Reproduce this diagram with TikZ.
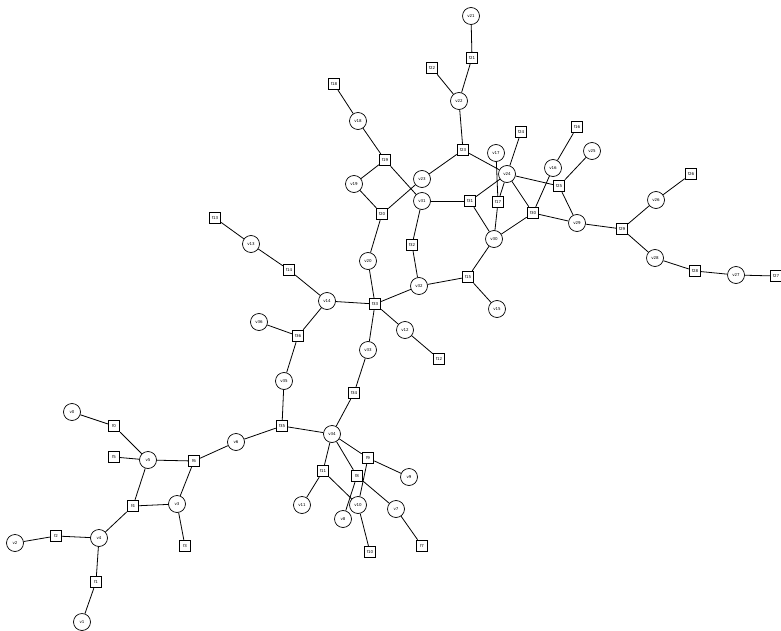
\documentclass[tikz,border=0pt]{standalone}
\usepackage{fontspec}
\setmainfont{DejaVu Sans}
\begin{document}
\begin{tikzpicture}[x=1pt,y=-1pt,
  vn/.style={circle,draw,line width=0.7pt,minimum size=17pt,inner sep=0pt,font=\fontsize{4}{4}\selectfont,fill=white},
  fn/.style={rectangle,draw,line width=0.9pt,minimum size=11.5pt,inner sep=0pt,font=\fontsize{4}{4}\selectfont,fill=white},
  ed/.style={line width=0.8pt}]
\useasboundingbox (0,0) rectangle (781,631);
% variable nodes
\node[vn] (v0) at (72,412) {v0};
\node[vn] (v1) at (82,622) {v1};
\node[vn] (v2) at (15,543) {v2};
\node[vn] (v3) at (177,504) {v3};
\node[vn] (v4) at (99,538) {v4};
\node[vn] (v5) at (148,460) {v5};
\node[vn] (v6) at (236,442) {v6};
\node[vn] (v7) at (396,509) {v7};
\node[vn] (v8) at (343,519) {v8};
\node[vn] (v9) at (409,477) {v9};
\node[vn] (v10) at (358,505) {v10};
\node[vn] (v11) at (302,505) {v11};
\node[vn] (v12) at (405,330) {v12};
\node[vn] (v13) at (251,244) {v13};
\node[vn] (v14) at (327,301) {v14};
\node[vn] (v15) at (497,309) {v15};
\node[vn] (v16) at (553,168) {v16};
\node[vn] (v17) at (496,153) {v17};
\node[vn] (v18) at (358,121) {v18};
\node[vn] (v19) at (354,184) {v19};
\node[vn] (v20) at (368,261) {v20};
\node[vn] (v21) at (471,16) {v21};
\node[vn] (v22) at (459,101) {v22};
\node[vn] (v23) at (422,179) {v23};
\node[vn] (v24) at (507,174) {v24};
\node[vn] (v25) at (592,151) {v25};
\node[vn] (v26) at (656,200) {v26};
\node[vn] (v27) at (736,275) {v27};
\node[vn] (v28) at (655,258) {v28};
\node[vn] (v29) at (577,223) {v29};
\node[vn] (v30) at (494,239) {v30};
\node[vn] (v31) at (422,201) {v31};
\node[vn] (v32) at (419,286) {v32};
\node[vn] (v33) at (368,350) {v33};
\node[vn] (v34) at (332,434) {v34};
\node[vn] (v35) at (284,381) {v35};
\node[vn] (v36) at (259,322) {v36};
% factor nodes
\node[fn] (f0) at (114,426) {f0};
\node[fn] (f1) at (96,582) {f1};
\node[fn] (f2) at (56,536) {f2};
\node[fn] (f3) at (185,546) {f3};
\node[fn] (f4) at (133,506) {f4};
\node[fn] (f5) at (114,457) {f5};
\node[fn] (f6) at (194,461) {f6};
\node[fn] (f7) at (422,546) {f7};
\node[fn] (f8) at (357,476) {f8};
\node[fn] (f9) at (368,458) {f9};
\node[fn] (f10) at (370,552) {f10};
\node[fn] (f11) at (323,471) {f11};
\node[fn] (f12) at (439,359) {f12};
\node[fn] (f13) at (215,218) {f13};
\node[fn] (f14) at (289,270) {f14};
\node[fn] (f15) at (468,277) {f15};
\node[fn] (f16) at (577,127) {f16};
\node[fn] (f17) at (498,202) {f17};
\node[fn] (f18) at (334,84) {f18};
\node[fn] (f19) at (385,160) {f19};
\node[fn] (f20) at (382,214) {f20};
\node[fn] (f21) at (472,58) {f21};
\node[fn] (f22) at (432,68) {f22};
\node[fn] (f23) at (463,150) {f23};
\node[fn] (f24) at (521,132) {f24};
\node[fn] (f25) at (559,186) {f25};
\node[fn] (f26) at (691,174) {f26};
\node[fn] (f27) at (776,276) {f27};
\node[fn] (f28) at (695,271) {f28};
\node[fn] (f29) at (622,229) {f29};
\node[fn] (f30) at (533,213) {f30};
\node[fn] (f31) at (470,201) {f31};
\node[fn] (f32) at (412,245) {f32};
\node[fn] (f33) at (375,304) {f33};
\node[fn] (f34) at (354,393) {f34};
\node[fn] (f35) at (282,426) {f35};
\node[fn] (f36) at (298,336) {f36};
% edges
\begin{scope}[on background layer/.style={}]
\foreach \a/\b in {v0/f0,f0/v5,f5/v5,v5/f6,f6/v6,v5/f4,f6/v3,f4/v3,f4/v4,v3/f3,f2/v4,v2/f2,v4/f1,f1/v1,
 v6/f35,f35/v35,f35/v34,v35/f36,f36/v36,f36/v14,v14/f14,f14/v13,v13/f13,v14/f33,f33/v20,v20/f20,f20/v19,v19/f19,f19/v18,v18/f18,f19/v31,f20/v23,
 f33/v32,v32/f32,f32/v31,f33/v12,v12/f12,f33/v33,v33/f34,f34/v34,
 v34/f11,f11/v11,f11/v10,v34/f8,v34/f9,f9/v9,f9/v10,f8/v8,f8/v7,v7/f7,v10/f10,
 v32/f15,f15/v15,f15/v30,v30/f31,f31/v31,f31/v24,v30/f17,f17/v17,f17/v24,
 v24/f23,f23/v23,f23/v22,v22/f22,v22/f21,f21/v21,v24/f24,v24/f25,v24/f30,f30/v30,f30/v16,v16/f16,f25/v25,f25/v29,f30/v29,
 v29/f29,f29/v26,v26/f26,f29/v28,v28/f28,f28/v27,v27/f27}
  \draw[ed] (\a) -- (\b);
\end{scope}
\end{tikzpicture}
\end{document}
